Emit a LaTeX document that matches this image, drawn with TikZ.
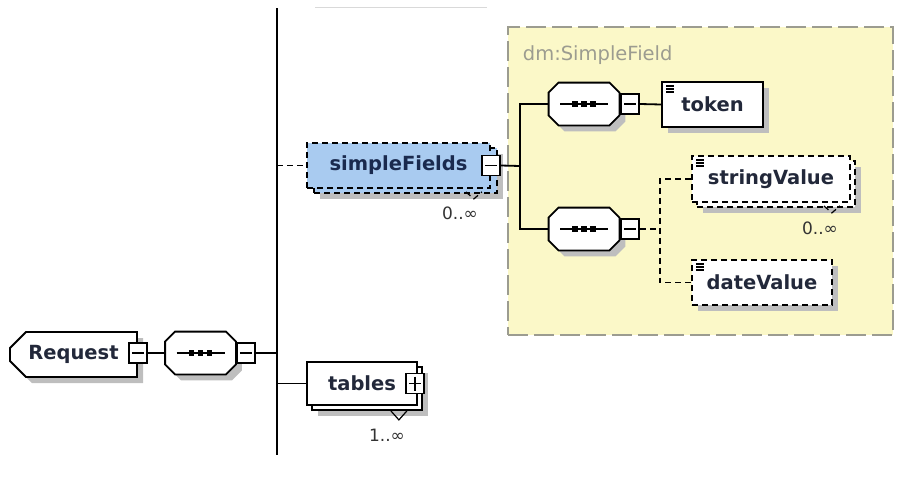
\documentclass[tikz,border=0pt]{standalone}
\usepackage{fontspec}
\setmainfont{DejaVu Sans}
\usetikzlibrary{shapes.misc,shadows}
\definecolor{sfblue}{HTML}{A9CBF0}
\definecolor{typeyellow}{HTML}{FBF8C8}
\definecolor{typeborder}{HTML}{9C9C90}
\definecolor{shadowgray}{HTML}{BEBEBE}
\definecolor{namecol}{HTML}{22283A}
\definecolor{sfcol}{HTML}{1A2A4E}
\tikzset{
  xsshadow/.style={general shadow={fill=shadowgray, shadow xshift=6pt, shadow yshift=-6pt}},
  elem/.style={draw, fill=white, inner sep=0pt, minimum height=45pt,
    font=\bfseries\fontsize{19.5}{22}\selectfont, text=namecol},
  optional/.style={dash pattern=on 6pt off 4pt},
  rootelem/.style={chamfered rectangle, chamfered rectangle corners={north west,south west},
    chamfered rectangle xsep=8pt, chamfered rectangle ysep=8pt},
  seqbox/.style={inner sep=0pt, minimum width=69pt, minimum height=41pt},
  toggle/.style={draw, solid, fill=white, inner sep=0pt, minimum width=18pt, minimum height=20pt},
  togglem/.style={toggle, path picture={
      \draw ([xshift=3pt]path picture bounding box.west) -- ([xshift=-3pt]path picture bounding box.east);}},
  togglep/.style={toggle, path picture={
      \draw ([xshift=3pt]path picture bounding box.west) -- ([xshift=-3pt]path picture bounding box.east);
      \draw ([yshift=-3pt]path picture bounding box.north) -- ([yshift=3pt]path picture bounding box.south);}},
  simpleicon/.style={path picture={
      \foreach \dy in {4,7,10}
        \draw[solid, line width=1.1pt] ([xshift=4pt,yshift=-\dy pt]path picture bounding box.north west) -- ++(8,0);}},
  card/.style={font=\fontsize{17}{20}\selectfont, text=black!80, inner sep=0pt},
  typebox/.style={draw=typeborder, fill=typeyellow, dash pattern=on 20pt off 6pt, line width=1.6pt},
  typename/.style={font=\fontsize{19.5}{22}\selectfont, text=typeborder, inner sep=0pt},
}
\begin{document}
\begin{tikzpicture}[x=1pt,y=-1pt,line width=1.8pt]
  \useasboundingbox (0,0) rectangle (903,480);
  % complex type area
  \node[typebox, minimum width=385pt, minimum height=308pt] (dmtype) at (700.5,181) {};
  \node[typename, anchor=base west] (dmname) at (522,60) {dm:SimpleField};
  \draw[black!15, line width=1pt] (315,7) -- (487,7);
  % backbone
  \coordinate (btop) at (277,8);
  \coordinate (bbot) at (277,455);
  \draw (btop) -- (bbot);
  % root element
  \node[elem, rootelem, xsshadow, minimum width=127pt] (req) at (73.5,354.5) {Request};
  \node[togglem] (reqm) at ([yshift=1.5pt]req.east) {};
  % sequence compositors
  \node[seqbox] (seq) at (200.5,353) {};
  \node[seqbox] (seqa) at (584,104) {};
  \node[seqbox] (seqb) at (584,229) {};
  \foreach \s in {seq,seqa,seqb} {
    \draw[fill=white, xsshadow]
      ([xshift=10pt]\s.north west) -- ([xshift=-10pt]\s.north east)
      -- ([yshift=-10pt]\s.north east) -- ([yshift=10pt]\s.south east)
      -- ([xshift=-10pt]\s.south east) -- ([xshift=10pt]\s.south west)
      -- ([yshift=10pt]\s.south west) -- ([yshift=-10pt]\s.north west) -- cycle;
    \draw ([xshift=-24pt]\s.center) -- ([xshift=24pt]\s.center);
    \foreach \dx in {-9,0,9}
      \fill ([xshift=\dx pt]\s.center) +(-2.8,-2.8) rectangle +(2.8,2.8);
  }
  \node[togglem, anchor=west] (seqm) at (seq.east) {};
  \node[togglem, anchor=west] (seqam) at ([xshift=1pt]seqa.east) {};
  \node[togglem, anchor=west] (seqbm) at ([xshift=1pt]seqb.east) {};
  % simpleFields
  \node[elem, optional, fill=sfblue, xsshadow, minimum width=183pt] (sfback) at (405.5,170.5) {};
  \node[elem, optional, fill=sfblue, text=sfcol, minimum width=183pt] (sf) at (398.5,165.5) {simpleFields};
  \node[togglem] (sfm) at (sf.east) {};
  \draw[optional, line width=1.2pt] ([xshift=-32pt,yshift=2pt]sfback.south east) -- ++(8,7) -- ++(8,-7);
  \node[card] (sfcard) at (460,213) {0..∞};
  % tables
  \node[elem, xsshadow, minimum width=110pt, minimum height=43pt] (tblback) at (367,388.5) {};
  \node[elem, minimum width=110pt, minimum height=43pt] (tbl) at (362,383.5) {tables};
  \node[togglep] (tblp) at ([xshift=-3pt]tbl.east) {};
  \draw[line width=1.2pt] ([xshift=-32pt]tblback.south east) -- ++(8,9) -- ++(8,-9);
  \node[card] (tblcard) at (387,435) {1..∞};
  % children of dm:SimpleField
  \node[elem, simpleicon, xsshadow, minimum width=101pt] (token) at (712.5,104.5) {token};
  \node[elem, optional, xsshadow, minimum width=158pt, minimum height=46pt] (strvback) at (776,184) {};
  \node[elem, optional, simpleicon, minimum width=158pt, minimum height=46pt] (strv) at (771,179) {stringValue};
  \draw[optional, line width=1.2pt] ([xshift=-32pt,yshift=2pt]strvback.south east) -- ++(8,7) -- ++(8,-7);
  \node[card] (strvcard) at (820,228) {0..∞};
  \node[elem, optional, simpleicon, xsshadow, minimum width=140pt] (datev) at (762,282.5) {dateValue};
  % connectors
  \coordinate (sfork) at (520,166);
  \coordinate (cfork) at (660,229);
  \draw (reqm.east) -- (seq.west);
  \draw (seqm.east) -- (seqm.east -| btop);
  \draw[optional] (sf.west -| btop) -- (sf.west);
  \draw (tbl.west -| btop) -- (tbl.west);
  \draw (sfm.east) -- (sfork);
  \draw (seqa.west) -| (sfork) |- (seqb.west);
  \draw (seqam.east) -- (token.west);
  \draw[optional] (seqbm.east) -- (cfork);
  \draw[optional] (strv.west) -| (cfork) |- (datev.west);
\end{tikzpicture}
\end{document}
